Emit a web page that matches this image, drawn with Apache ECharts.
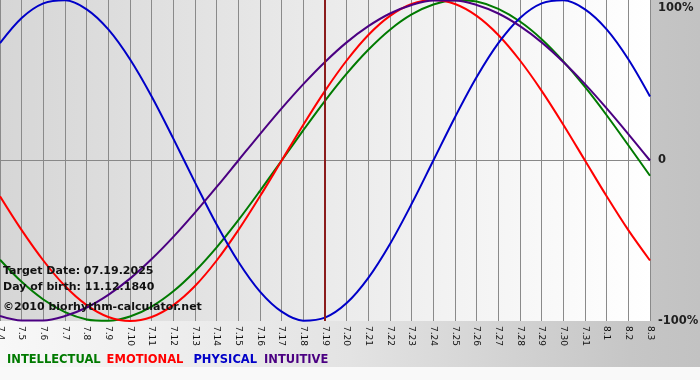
<!DOCTYPE html>
<html>
<head>
<meta charset="utf-8">
<script src="https://cdn.jsdelivr.net/npm/echarts@6/dist/echarts.min.js"></script>
<style>
html,body{margin:0;padding:0;background:#fff;}
#chart{width:700px;height:380px;}
</style>
</head>
<body>
<div id="chart"></div>
<script>
// Day labels (July 4 – August 3, 2025)
const categories = ['7.4','7.5','7.6','7.7','7.8','7.9','7.10','7.11','7.12','7.13','7.14','7.15','7.16','7.17','7.18','7.19','7.20','7.21','7.22','7.23','7.24','7.25','7.26','7.27','7.28','7.29','7.30','7.31','8.1','8.2','8.3'];
const targetDay = '7.19';

// Values in percent
const intellectual = [-61.8,-75.6,-86.6,-94.5,-99.0,-99.9,-97.2,-91.0,-81.5,-69.0,-54.1,-37.2,-18.9,0,18.9,37.2,54.1,69.0,81.5,91.0,97.2,99.9,99.0,94.5,86.6,75.6,61.8,45.8,28.2,9.5,-9.5];
const emotional    = [-22.3,-43.4,-62.3,-78.2,-90.1,-97.5,-100,-97.5,-90.1,-78.2,-62.3,-43.4,-22.3,0,22.3,43.4,62.3,78.2,90.1,97.5,100,97.5,90.1,78.2,62.3,43.4,22.3,0,-22.3,-43.4,-62.3];
const physical     = [73.1,88.8,97.9,99.8,94.2,81.7,63.1,39.9,13.6,-13.6,-39.9,-63.1,-81.7,-94.2,-99.8,-97.9,-88.8,-73.1,-52.0,-27.0,0,27.0,52.0,73.1,88.8,97.9,99.8,94.2,81.7,63.1,39.9];
const intuitive    = [-96.9,-99.7,-99.7,-96.9,-91.6,-83.7,-73.6,-61.4,-47.6,-32.5,-16.5,0,16.5,32.5,47.6,61.4,73.6,83.7,91.6,96.9,99.7,99.7,96.9,91.6,83.7,73.6,61.4,47.6,32.5,16.5,0];

const yTicks = [-100, 0, 100];
const infoLines = ['Target Date: 07.19.2025', 'Day of birth: 11.12.1840', '\u00A92010 biorhythm-calculator.net'];

const colors = {
  INTELLECTUAL: '#007a00',
  EMOTIONAL: '#ff0000',
  PHYSICAL: '#0000c8',
  INTUITIVE: '#4b0082'
};

const chart = echarts.init(document.getElementById('chart'), null, {renderer: 'canvas'});

function lineSeries(name, data, extra) {
  return Object.assign({
    name: name,
    type: 'line',
    data: data,
    smooth: 0.33,
    showSymbol: false,
    symbol: 'none',
    lineStyle: {color: colors[name], width: 2},
    itemStyle: {color: colors[name]},
    animation: false
  }, extra || {});
}

const legendFont = {fontFamily: 'DejaVu Sans', fontSize: 11.5, fontWeight: 'bold'};

const option = {
  animation: false,
  backgroundColor: new echarts.graphic.LinearGradient(0, 0, 1, 0, [
    {offset: 0, color: '#f8f8f8'},
    {offset: 0.5, color: '#e3e3e3'},
    {offset: 0.9, color: '#c6c6c6'},
    {offset: 1, color: '#c2c2c2'}
  ]),
  grid: {
    left: 0, right: 50, top: 0, bottom: 59,
    outerBoundsMode: 'none',
    containLabel: false,
    show: true,
    borderWidth: 0,
    backgroundColor: new echarts.graphic.LinearGradient(0, 0, 1, 0, [
      {offset: 0, color: '#d6d6d6'},
      {offset: 1, color: '#ffffff'}
    ])
  },
  title: {
    left: 7,
    top: 354,
    padding: 0,
    text: '{a|INTELLECTUAL}{b|EMOTIONAL}{c|PHYSICAL}{d|INTUITIVE}',
    textStyle: {
      fontFamily: 'DejaVu Sans',
      fontSize: 11.5,
      fontWeight: 'bold',
      rich: {
        a: Object.assign({color: colors.INTELLECTUAL}, legendFont),
        b: Object.assign({color: colors.EMOTIONAL, padding: [0, 0, 0, 6]}, legendFont),
        c: Object.assign({color: colors.PHYSICAL, padding: [0, 0, 0, 10]}, legendFont),
        d: Object.assign({color: colors.INTUITIVE, padding: [0, 0, 0, 7]}, legendFont)
      }
    }
  },
  xAxis: {
    type: 'category',
    data: categories,
    boundaryGap: false,
    axisLine: {show: true, lineStyle: {color: '#888888', width: 1}},
    axisTick: {show: true, length: 4, interval: 0, lineStyle: {color: '#888888'}},
    splitLine: {show: true, interval: 0, lineStyle: {color: '#8a8a8a', width: 1}},
    axisLabel: {
      interval: 0,
      rotate: -90,
      margin: 5,
      color: '#111111',
      fontFamily: 'DejaVu Sans',
      fontSize: 9,
      hideOverlap: false
    }
  },
  yAxis: {
    type: 'value',
    position: 'right',
    min: yTicks[0],
    max: yTicks[yTicks.length - 1],
    interval: 100,
    axisLine: {show: false},
    axisTick: {show: false},
    splitLine: {show: true, lineStyle: {color: ['rgba(0,0,0,0)', '#8a8a8a', 'rgba(0,0,0,0)'], width: 1}},
    axisLabel: {
      margin: 8,
      padding: [2, 0, 0, 0],
      color: '#202020',
      fontFamily: 'DejaVu Sans',
      fontWeight: 'bold',
      fontSize: 11.5,
      verticalAlignMaxLabel: 'top',
      formatter: function (v) { return v === 0 ? '0' : v + '%'; }
    }
  },
  graphic: [
    {type: 'rect', left: 0, bottom: 0, z: 1, shape: {width: 700, height: 13}, style: {fill: '#f9f9f9'}},
    {type: 'text', left: 3, top: 266, z: 100, style: {text: infoLines[0], fill: '#111111', font: 'bold 11px "DejaVu Sans"'}},
    {type: 'text', left: 3, top: 282, z: 100, style: {text: infoLines[1], fill: '#111111', font: 'bold 11px "DejaVu Sans"'}},
    {type: 'text', left: 3, top: 302, z: 100, style: {text: infoLines[2], fill: '#111111', font: 'bold 11px "DejaVu Sans"'}}
  ],
  series: [
    lineSeries('INTELLECTUAL', intellectual, {
      markLine: {
        silent: true,
        symbol: ['none', 'none'],
        label: {show: false},
        animation: false,
        lineStyle: {color: '#8b1c1c', width: 2, type: 'solid'},
        data: [{xAxis: targetDay}]
      }
    }),
    lineSeries('EMOTIONAL', emotional),
    lineSeries('PHYSICAL', physical),
    lineSeries('INTUITIVE', intuitive)
  ]
};

chart.setOption(option);
</script>
</body>
</html>
